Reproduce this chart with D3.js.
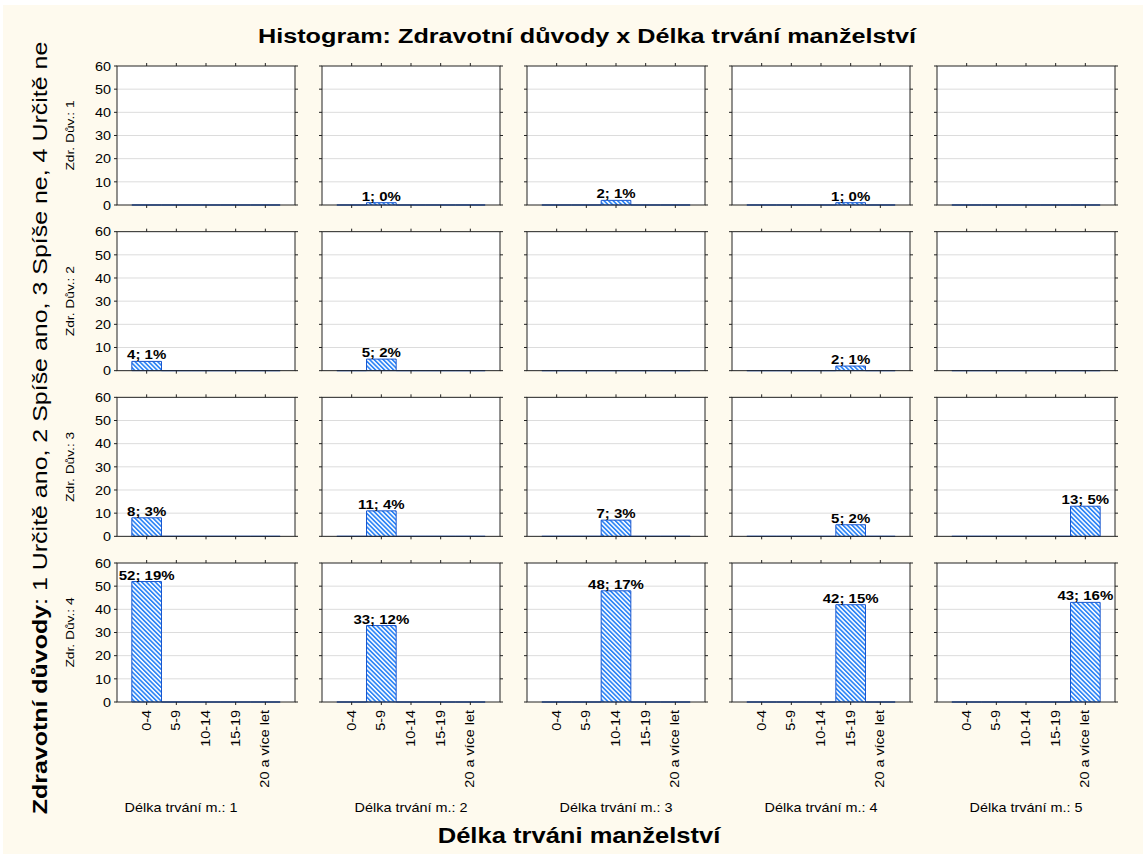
<!DOCTYPE html>
<html>
<head>
<meta charset="utf-8">
<script src="https://cdn.jsdelivr.net/npm/d3@7"></script>
<style>
  body { margin: 0; background: #fff; }
  svg text { font-family: "Liberation Sans", Arial, sans-serif; fill: #000; }
</style>
</head>
<body>
<div id="chart"></div>
<script>
// Data
const title = "Histogram: Zdravotní důvody x Délka trvání manželství";
const xTitle = "Délka trváni manželství";
const yTitleBold = "Zdravotní důvody";
const yTitleRest = ": 1 Určitě ano, 2 Spíše ano, 3 Spíše ne, 4 Určitě ne";
const rowLabels = ["Zdr. Dův.: 1", "Zdr. Dův.: 2", "Zdr. Dův.: 3", "Zdr. Dův.: 4"];
const colLabels = ["Délka trvání m.: 1", "Délka trvání m.: 2", "Délka trvání m.: 3", "Délka trvání m.: 4", "Délka trvání m.: 5"];
const categories = ["0-4", "5-9", "10-14", "15-19", "20 a více let"];
const yTicks = [0, 10, 20, 30, 40, 50, 60];

// counts per row (Zdr. Dův.) and column (Délka trvání m.)
const counts1 = [0, 1, 2, 1, 0];
const counts2 = [4, 5, 0, 2, 0];
const counts3 = [8, 11, 7, 5, 13];
const counts4 = [52, 33, 48, 42, 43];
const counts = [counts1, counts2, counts3, counts4];

const total = d3.sum(counts.flat());

const W = 1143, H = 854;
const SX = 1.2; // text in the original is drawn a bit wide

const svg = d3.select("#chart").append("svg")
    .attr("width", W)
    .attr("height", H);

// hatch pattern for bars
const defs = svg.append("defs");
const pat = defs.append("pattern")
    .attr("id", "hatch")
    .attr("patternUnits", "userSpaceOnUse")
    .attr("width", 3.2)
    .attr("height", 3.2)
    .attr("patternTransform", "rotate(-45)");
pat.append("rect").attr("width", 3.2).attr("height", 3.2).attr("fill", "#fff");
pat.append("line")
    .attr("x1", 0.8).attr("y1", 0).attr("x2", 0.8).attr("y2", 3.2)
    .attr("stroke", "#2f86f6").attr("stroke-width", 1.8);

// background
svg.append("rect")
    .attr("x", 3).attr("y", 5)
    .attr("width", W - 3).attr("height", H - 5)
    .attr("fill", "#fefaee");

// helper for text (scaled along the reading direction)
function label(x, y, rot, s, size, weight, anchor) {
    return svg.append("text")
        .attr("transform", `translate(${x},${y}) rotate(${rot}) scale(${SX},1)`)
        .attr("text-anchor", anchor || "middle")
        .style("font-size", size + "px")
        .style("font-weight", weight || "normal")
        .text(s);
}

// panel grid
const colScale = d3.scaleBand()
    .domain(d3.range(colLabels.length))
    .range([117, 1115])
    .paddingInner(27 / 205);

const rowScale = d3.scaleBand()
    .domain(d3.range(rowLabels.length))
    .range([66, 702])
    .paddingInner(26.67 / 165.67);

const pw = colScale.bandwidth();
const ph = rowScale.bandwidth();

const x = d3.scaleBand()
    .domain(categories)
    .range([0, pw])
    .paddingInner(0)
    .paddingOuter(0.5);

const y = d3.scaleLinear()
    .domain([0, 60])
    .range([ph, 0]);

rowLabels.forEach((rl, r) => {
    colLabels.forEach((cl, c) => {
        const g = svg.append("g")
            .attr("transform", `translate(${colScale(c)},${rowScale(r)})`);

        g.append("rect")
            .attr("width", pw).attr("height", ph)
            .attr("fill", "#fff");

        // grid
        g.selectAll(".grid")
            .data(yTicks.filter(t => t > 0 && t < 60))
            .enter().append("line")
            .attr("x1", 0).attr("x2", pw)
            .attr("y1", d => y(d)).attr("y2", d => y(d))
            .attr("stroke", "#dcdcdc").attr("stroke-width", 1);

        // bars: one histogram per panel, only its own category is filled
        const vals = categories.map((cat, i) => ({ cat: cat, v: i === c ? counts[r][c] : 0 }));
        g.selectAll(".bar")
            .data(vals)
            .enter().append("path")
            .attr("d", d => {
                const x0 = x(d.cat), x1 = x(d.cat) + x.bandwidth();
                return `M${x0},${y(0)}V${y(d.v)}H${x1}V${y(0)}Z`;
            })
            .attr("fill", "url(#hatch)")
            .attr("stroke", "#1957cf")
            .attr("stroke-width", 1);

        // value labels
        vals.filter(d => d.v > 0).forEach(d => {
            const pct = Math.round(d.v / total * 100);
            label(colScale(c) + x(d.cat) + x.bandwidth() / 2, rowScale(r) + y(d.v) - 2, 0,
                `${d.v}; ${pct}%`, 12.5, "bold");
        });

        // frame
        g.append("rect")
            .attr("width", pw).attr("height", ph)
            .attr("fill", "none")
            .attr("stroke", "#222").attr("stroke-width", 1);

        // ticks on all sides
        const tk = 3;
        yTicks.forEach(t => {
            g.append("line").attr("x1", -tk).attr("x2", 0).attr("y1", y(t)).attr("y2", y(t)).attr("stroke", "#222");
            g.append("line").attr("x1", pw).attr("x2", pw + tk).attr("y1", y(t)).attr("y2", y(t)).attr("stroke", "#222");
        });
        categories.forEach(cat => {
            const cx = x(cat) + x.bandwidth() / 2;
            g.append("line").attr("x1", cx).attr("x2", cx).attr("y1", -tk).attr("y2", 0).attr("stroke", "#222");
            g.append("line").attr("x1", cx).attr("x2", cx).attr("y1", ph).attr("y2", ph + tk).attr("stroke", "#222");
        });

        // y tick labels on the first column
        if (c === 0) {
            yTicks.forEach(t => {
                label(colScale(c) - 6, rowScale(r) + y(t) + 4.8, 0, t, 12, "normal", "end");
            });
        }

        // category labels under the last row
        if (r === rowLabels.length - 1) {
            categories.forEach(cat => {
                label(colScale(c) + x(cat) + x.bandwidth() / 2 + 4, rowScale(r) + ph + 8, -90, cat, 12, "normal", "end");
            });
        }
    });
    // row label
    label(74, rowScale(r) + ph / 2, -90, rl, 11.5);
});

// column labels (the first one is centred over its cell incl. the axis area)
colLabels.forEach((cl, c) => {
    const left = c === 0 ? 67 : colScale(c);
    label((left + colScale(c) + pw) / 2, 812, 0, cl, 12);
});

// titles
label(587, 43, 0, title, 21, "bold");
label(579, 843, 0, xTitle, 21.3, "bold");

const yt = svg.append("text")
    .attr("transform", `translate(47,428) rotate(-90) scale(${SX},1)`)
    .attr("text-anchor", "middle")
    .style("font-size", "20.8px");
yt.append("tspan").style("font-weight", "bold").text(yTitleBold);
yt.append("tspan").text(yTitleRest);
</script>
</body>
</html>
